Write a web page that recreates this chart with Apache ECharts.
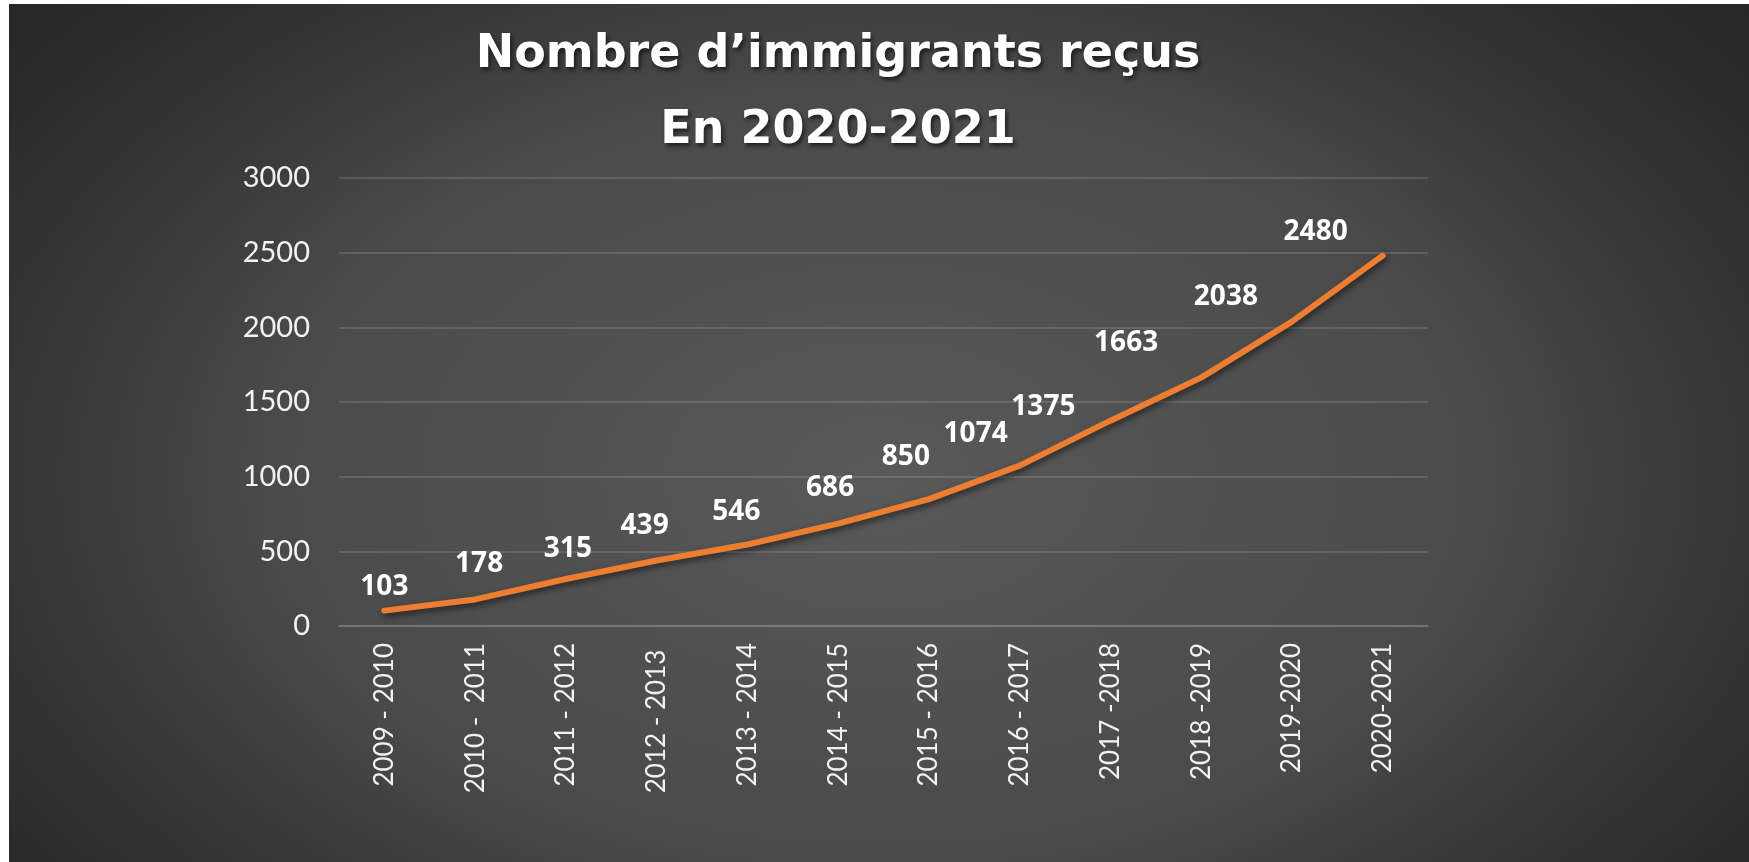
<!DOCTYPE html>
<html>
<head>
<meta charset="utf-8">
<script src="https://cdn.jsdelivr.net/npm/echarts@6/dist/echarts.min.js"></script>
<style>
    html, body { margin: 0; padding: 0; background: #ffffff; }
    #chart {
        position: absolute; left: 9px; top: 4px; width: 1740px; height: 858px;
        background: radial-gradient(ellipse 70% 90% at 50% 55%, #595959 0%, #4a4a4a 50%, #363636 70%, #272727 92%, #252525 100%);
    }
</style>
</head>
<body>
<div id="chart"></div>
<script>
// données du graphique
var periods = ['2009 - 2010', '2010 -  2011', '2011 - 2012', '2012 - 2013 ', '2013 - 2014', '2014 - 2015',
               '2015 - 2016', '2016 - 2017', '2017 -2018', '2018 -2019', '2019-2020', '2020-2021'];
var immigrants = [103, 178, 315, 439, 546, 686, 850, 1074, 1375, 1663, 2038, 2480];
var titleLines = ['Nombre d\u2019immigrants reçus', 'En 2020-2021'];

// décalage des étiquettes (placées à la main dans l'original)
var labelShift = [[0, -23], [4, -34], [2, -29], [-12, -33], [-11, -31], [-8, -35],
                  [-23, -41], [-44, -31], [-67, -13], [-75, -34], [-66, -24], [-67, -23]];

var myChart = echarts.init(document.getElementById('chart'));

var seriesData = [];
for (var i = 0; i < immigrants.length; i++) {
    seriesData.push({
        value: immigrants[i],
        label: { offset: labelShift[i] }
    });
}

var option = {
    backgroundColor: 'transparent',
    title: {
        text: titleLines.join('\n'),
        left: 824,
        top: 8,
        textAlign: 'center',
        textStyle: {
            color: '#ffffff',
            fontFamily: 'DejaVu Sans',
            fontWeight: 'bold',
            fontSize: 46,
            lineHeight: 76,
            textShadowColor: 'rgba(0,0,0,0.6)',
            textShadowBlur: 4,
            textShadowOffsetX: 2,
            textShadowOffsetY: 3
        }
    },
    grid: {
        left: 330,
        right: 321,
        top: 174,
        bottom: 236,
        containLabel: false
    },
    xAxis: {
        type: 'category',
        data: periods,
        boundaryGap: true,
        axisLine: { show: true, lineStyle: { color: 'rgba(255,255,255,0.13)', width: 2 } },
        axisTick: { show: false },
        axisLabel: {
            interval: 0,
            rotate: 90,
            margin: 17,
            color: '#f2f2f2',
            fontFamily: 'Lato',
            fontSize: 26
        }
    },
    yAxis: {
        type: 'value',
        min: 0,
        max: 3000,
        interval: 500,
        axisLine: { show: false },
        axisTick: { show: false },
        splitLine: { lineStyle: { color: 'rgba(255,255,255,0.13)', width: 2 } },
        axisLabel: {
            margin: 29,
            color: '#f2f2f2',
            fontFamily: 'Lato',
            fontSize: 29,
            formatter: function (v) { return String(v); }
        }
    },
    series: [{
        type: 'line',
        data: seriesData,
        symbol: 'circle',
        symbolSize: 2,
        showSymbol: true,
        itemStyle: { color: '#ED7D31' },
        lineStyle: {
            color: '#ED7D31',
            width: 6,
            cap: 'round',
            shadowColor: 'rgba(0,0,0,0.55)',
            shadowBlur: 6,
            shadowOffsetX: 2,
            shadowOffsetY: 3
        },
        label: {
            show: true,
            position: 'top',
            distance: 0,
            align: 'center',
            verticalAlign: 'middle',
            color: '#ffffff',
            fontFamily: 'Open Sans',
            fontWeight: 'bold',
            fontSize: 28
        },
        emphasis: { disabled: true },
        animation: false
    }]
};

myChart.setOption(option);
</script>
</body>
</html>
